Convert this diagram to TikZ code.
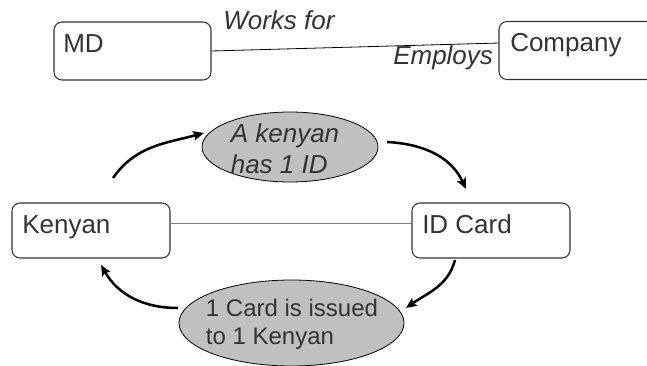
\documentclass[tikz,border=0pt]{standalone}
\usepackage{fontspec}
\setmainfont{Liberation Sans}
\usetikzlibrary{arrows.meta,shapes.geometric}
\definecolor{ink}{HTML}{333333}
\definecolor{linkgray}{HTML}{808080}
\definecolor{bubblefill}{HTML}{C0C0C0}
\begin{document}
\begin{tikzpicture}[x=0.75pt,y=0.75pt,
  entity/.style={draw=ink, line width=0.8pt, rounded corners=6pt, inner sep=0pt},
  entitytext/.style={text=ink, inner sep=0pt, anchor=base west, font=\fontsize{19.5}{23}\selectfont},
  roletext/.style={text=ink, inner sep=0pt, anchor=base west, font=\fontsize{19.5}{23}\selectfont\itshape},
  bubble/.style={ellipse, draw=black, line width=0.6pt, fill=bubblefill, inner sep=0pt},
  bubbletext/.style={text=ink, inner sep=0pt, align=left},
  flow/.style={line width=1.9pt, -{Stealth[length=8pt,width=7pt,inset=1.5pt]}}
]
\useasboundingbox (0,0) rectangle (647,365);

% --- MD / Company relationship ---
\node[entity, minimum width=117.75pt, minimum height=43.5pt] (md) at (132.5,314) {};
\node[entity, minimum width=117.75pt, minimum height=43.5pt] (co) at (577.5,314.5) {};
\node[entitytext] (mdt) at (63,312) {MD};
\node[entitytext] (cot) at (510,313) {Company};
\draw[black, line width=0.6pt] (md.east) -- ([yshift=5.6pt]co.west);
\node[roletext] (works) at (223,335) {Works for};
\node[roletext] (employs) at (393,300) {Employs};

% --- Kenyan / ID Card relationship ---
\node[entity, minimum width=118.5pt, minimum height=41.25pt] (ken) at (91,134.5) {};
\node[entity, minimum width=118.5pt, minimum height=41.25pt] (idc) at (491,134.5) {};
\node[entitytext] (kent) at (22,132) {Kenyan};
\node[entitytext] (idct) at (422,132) {ID Card};
\draw[linkgray, line width=0.8pt] ([yshift=5.6pt]ken.east) -- ([yshift=5.6pt]idc.west);

% --- cardinality bubbles ---
\node[bubble, minimum width=132pt, minimum height=52.5pt] (has) at (290,218) {};
\node[bubbletext, font=\fontsize{19.5}{23.25}\selectfont\itshape] (hast) at (285,216) {A kenyan\\has 1 ID};
\node[bubble, minimum width=168.75pt, minimum height=64.5pt] (iss) at (291.5,42) {};
\node[bubbletext, font=\fontsize{18}{21}\selectfont] (isst) at (292,40.5) {1 Card is issued\\to 1 Kenyan};

% --- reading-direction arrows ---
\coordinate (a1s) at (113,187);
\coordinate (a1e) at (204,232);
\coordinate (a2s) at (387,223);
\coordinate (a2e) at (466,176);
\coordinate (a3s) at (455,105);
\coordinate (a3e) at (406,57);
\coordinate (a4s) at (178,57);
\coordinate (a4e) at (101,100);
\draw[flow] (a1s) to[out=55,in=195] (a1e);
\draw[flow] (a2s) to[out=-3,in=115] (a2e);
\draw[flow] (a3s) to[out=-105,in=35] (a3e);
\draw[flow] (a4s) to[out=180,in=-60] (a4e);
\end{tikzpicture}
\end{document}
